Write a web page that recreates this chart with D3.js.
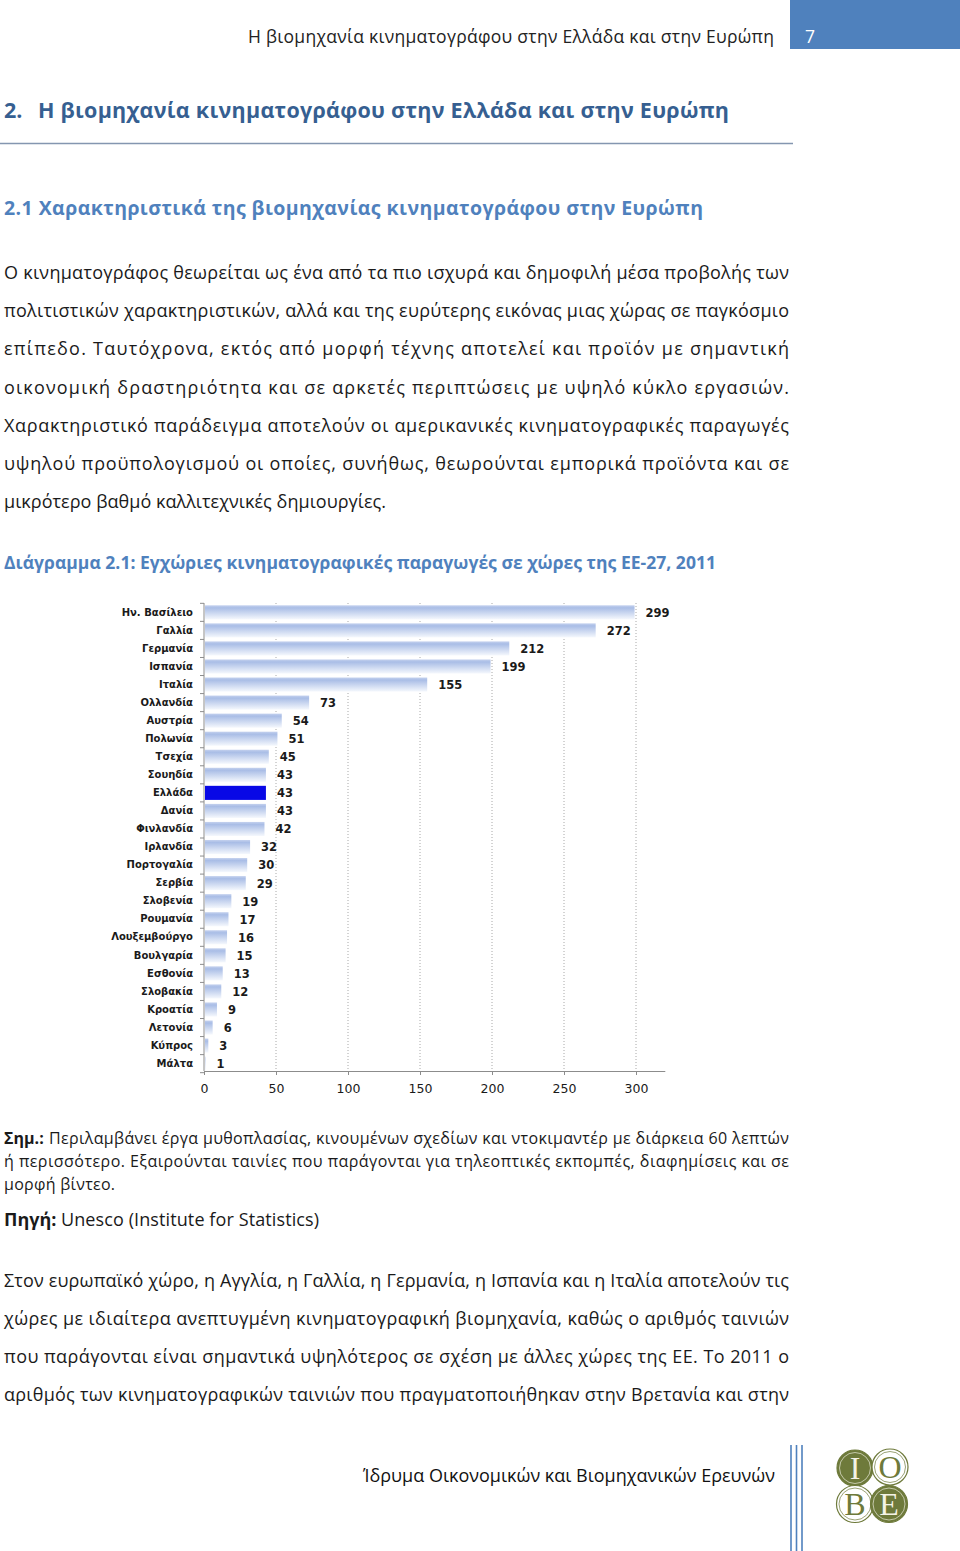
<!DOCTYPE html>
<html><head><meta charset="utf-8">
<script src="https://cdn.jsdelivr.net/npm/d3@7"></script>
<style>html,body{margin:0;padding:0;background:#fff;} svg{display:block}</style>
</head><body>
<script>
// ---------- data ----------
const countries = ["Ην. Βασίλειο","Γαλλία","Γερμανία","Ισπανία","Ιταλία","Ολλανδία","Αυστρία","Πολωνία","Τσεχία","Σουηδία","Ελλάδα","Δανία","Φινλανδία","Ιρλανδία","Πορτογαλία","Σερβία","Σλοβενία","Ρουμανία","Λουξεμβούργο","Βουλγαρία","Εσθονία","Σλοβακία","Κροατία","Λετονία","Κύπρος","Μάλτα"];
const films = [299,272,212,199,155,73,54,51,45,43,43,43,42,32,30,29,19,17,16,15,13,12,9,6,3,1];
const highlighted = "Ελλάδα";
const xTickValues = [0,50,100,150,200,250,300];

const headerText = "Η βιομηχανία κινηματογράφου στην Ελλάδα και στην Ευρώπη";
const pageNumber = "7";
const chapterNum = "2.";
const chapterTitle = "Η βιομηχανία κινηματογράφου στην Ελλάδα και στην Ευρώπη";
const sectionTitle = "2.1 Χαρακτηριστικά της βιομηχανίας κινηματογράφου στην Ευρώπη";
const para1 = [
 "Ο κινηματογράφος θεωρείται ως ένα από τα πιο ισχυρά και δημοφιλή μέσα προβολής των",
 "πολιτιστικών χαρακτηριστικών, αλλά και της ευρύτερης εικόνας μιας χώρας σε παγκόσμιο",
 "επίπεδο. Ταυτόχρονα, εκτός από μορφή τέχνης αποτελεί και προϊόν με σημαντική",
 "οικονομική δραστηριότητα και σε αρκετές περιπτώσεις με υψηλό κύκλο εργασιών.",
 "Χαρακτηριστικό παράδειγμα αποτελούν οι αμερικανικές κινηματογραφικές παραγωγές",
 "υψηλού προϋπολογισμού οι οποίες, συνήθως, θεωρούνται εμπορικά προϊόντα και σε",
 "μικρότερο βαθμό καλλιτεχνικές δημιουργίες."
];
const chartTitle = "Διάγραμμα 2.1: Εγχώριες κινηματογραφικές παραγωγές σε χώρες της ΕΕ-27, 2011";
const noteLabel = "Σημ.:";
const noteLines = [
 "Περιλαμβάνει έργα μυθοπλασίας, κινουμένων σχεδίων και ντοκιμαντέρ με διάρκεια 60 λεπτών",
 "ή περισσότερο. Εξαιρούνται ταινίες που παράγονται για τηλεοπτικές εκπομπές, διαφημίσεις και σε",
 "μορφή βίντεο."
];
const sourceLabel = "Πηγή:";
const sourceText = "Unesco (Institute for Statistics)";
const para2 = [
 "Στον ευρωπαϊκό χώρο, η Αγγλία, η Γαλλία, η Γερμανία, η Ισπανία και η Ιταλία αποτελούν τις",
 "χώρες με ιδιαίτερα ανεπτυγμένη κινηματογραφική βιομηχανία, καθώς ο αριθμός ταινιών",
 "που παράγονται είναι σημαντικά υψηλότερος σε σχέση με άλλες χώρες της ΕΕ. Το 2011 ο",
 "αριθμός των κινηματογραφικών ταινιών που πραγματοποιήθηκαν στην Βρετανία και στην"
];
const footerText = "Ίδρυμα Οικονομικών και Βιομηχανικών Ερευνών";

// ---------- page ----------
const W = 960, H = 1551;
const svg = d3.select("body").append("svg").attr("width", W).attr("height", H);
svg.append("rect").attr("width", W).attr("height", H).attr("fill", "#fff");

const bodyFont = "'Open Sans', 'Noto Sans', sans-serif";
function line(txt, x, y, opts) {
  const t = svg.append("text").attr("x", x).attr("y", y).text(txt)
    .attr("font-family", bodyFont)
    .attr("font-size", opts.size)
    .attr("font-weight", opts.weight || 400)
    .attr("fill", opts.color || "#1a1a1a");
  if (opts.len) t.attr("textLength", opts.len).attr("lengthAdjust", "spacing");
  return t;
}

// header
svg.append("rect").attr("x", 790).attr("y", 0).attr("width", 170).attr("height", 49).attr("fill", "#4f81bd");
line(headerText, 248, 43, {size: 17.5, len: 526, color: "#222"});
line(pageNumber, 805, 43, {size: 17.5, color: "#fff"});

// chapter title
line(chapterNum, 4, 118, {size: 21.5, weight: 700, color: "#365f91"});
line(chapterTitle, 38, 118, {size: 21.5, weight: 700, color: "#365f91", len: 691});
svg.append("line").attr("x1", 0).attr("x2", 793).attr("y1", 143.5).attr("y2", 143.5)
  .attr("stroke", "#8496b0").attr("stroke-width", 1.5);

// section title
line(sectionTitle, 4, 215, {size: 19.5, weight: 700, color: "#4f81bd", len: 699});

// paragraph 1
const p1Base = [279, 317, 355, 394, 432, 470, 508];
para1.forEach((s, i) => line(s, 4, p1Base[i], {size: 18, len: i === para1.length - 1 ? 382 : 785}));

// chart title
line(chartTitle, 4, 569, {size: 17.5, weight: 700, color: "#4f81bd", len: 712});

// ---------- chart ----------
const x = d3.scaleLinear().domain([0, 320]).range([204, 204 + 320 * 1.44]);
const y = d3.scaleBand().domain(countries).range([603.5, 1072.5]).paddingInner(0.22).paddingOuter(0.1);
const chartFont = "'DejaVu Sans', sans-serif";

const defs = svg.append("defs");
const grad = defs.append("linearGradient").attr("id", "barGrad").attr("x1", 0).attr("x2", 0).attr("y1", 0).attr("y2", 1);
grad.append("stop").attr("offset", "0%").attr("stop-color", "#c4d1ee");
grad.append("stop").attr("offset", "18%").attr("stop-color", "#a9bde6");
grad.append("stop").attr("offset", "100%").attr("stop-color", "#f5f8fd");

const chart = svg.append("g");
// gridlines
chart.selectAll("line.grid").data(xTickValues.filter(d => d > 0)).enter().append("line")
  .attr("class", "grid")
  .attr("x1", d => x(d)).attr("x2", d => x(d))
  .attr("y1", 603).attr("y2", 1071)
  .attr("stroke", "#a8a8a8").attr("stroke-width", 1).attr("stroke-dasharray", "1,2");

// bars
chart.selectAll("rect.bar").data(countries).enter().append("rect")
  .attr("class", "bar")
  .attr("x", x(0) + 1)
  .attr("y", d => y(d))
  .attr("width", (d, i) => Math.max(0, x(films[i]) - x(0) - 1))
  .attr("height", y.bandwidth())
  .attr("fill", d => d === highlighted ? "#0808e6" : "url(#barGrad)");

// values
chart.selectAll("text.val").data(countries).enter().append("text")
  .attr("class", "val")
  .attr("x", (d, i) => x(films[i]) + 11)
  .attr("y", d => y(d) + y.bandwidth() / 2)
  .attr("dy", "0.38em")
  .attr("font-family", chartFont).attr("font-weight", 700).attr("font-size", 11.5)
  .attr("fill", "#1a1a1a")
  .text((d, i) => films[i]);

// y axis labels
const yAxis = chart.append("g").attr("transform", "translate(204,0)")
  .call(d3.axisLeft(y).tickSize(0).tickPadding(11));
yAxis.select(".domain").remove();
yAxis.selectAll("text").attr("font-family", chartFont).attr("font-weight", 700)
  .attr("font-size", 10).attr("fill", "#1a1a1a");
// y axis line and boundary ticks
const step = y.step();
const bounds = countries.map(c => y(c) - step * y.paddingInner() / 2).concat([y(countries[countries.length - 1]) + y.bandwidth() + step * y.paddingInner() / 2]);
chart.append("line").attr("x1", 204).attr("x2", 204).attr("y1", 603).attr("y2", 1071)
  .attr("stroke", "#8c8c8c").attr("stroke-width", 1);
chart.selectAll("line.yt").data(bounds).enter().append("line").attr("class", "yt")
  .attr("x1", 200).attr("x2", 204).attr("y1", d => d).attr("y2", d => d)
  .attr("stroke", "#8c8c8c");

// x axis
const xAxis = chart.append("g").attr("transform", "translate(0,1071)")
  .call(d3.axisBottom(x).tickValues(xTickValues).tickSize(4).tickPadding(9).tickSizeOuter(0));
xAxis.select(".domain").attr("stroke", "#8c8c8c");
xAxis.selectAll(".tick line").attr("stroke", "#8c8c8c");
xAxis.selectAll("text").attr("font-family", chartFont).attr("font-size", 12.5).attr("fill", "#1a1a1a");

// ---------- notes ----------
line(noteLabel, 4, 1144, {size: 16, weight: 700});
line(noteLines[0], 49, 1144, {size: 16, len: 740});
line(noteLines[1], 4, 1167, {size: 16, len: 785});
line(noteLines[2], 4, 1190, {size: 16, len: 111});
line(sourceLabel, 4, 1226, {size: 18, weight: 700});
line(sourceText, 61, 1226, {size: 18, len: 258});

// paragraph 2
const p2Base = [1287, 1325, 1363, 1401];
para2.forEach((s, i) => line(s, 4, p2Base[i], {size: 18, len: 785}));

// ---------- footer ----------
line(footerText, 363, 1482, {size: 18, len: 412, color: "#111"});
[791, 796.5, 802].forEach(xx => svg.append("line").attr("x1", xx).attr("x2", xx).attr("y1", 1445).attr("y2", 1551)
  .attr("stroke", "#4f81bd").attr("stroke-width", 1.6));

const olive = "#6e7a3b";
const logo = [
  {cx: 855, cy: 1468, r: 18, filled: true, ch: "I"},
  {cx: 890, cy: 1467, r: 18, filled: false, ch: "O"},
  {cx: 855, cy: 1504, r: 18.5, filled: false, ch: "B"},
  {cx: 889, cy: 1504, r: 18.5, filled: true, ch: "E"}
];
const lg = svg.append("g");
lg.selectAll("circle.o").data(logo).enter().append("circle")
  .attr("cx", d => d.cx).attr("cy", d => d.cy).attr("r", d => d.r)
  .attr("fill", d => d.filled ? olive : "#fff").attr("stroke", olive).attr("stroke-width", 1.2);
lg.selectAll("circle.i").data(logo).enter().append("circle")
  .attr("cx", d => d.cx).attr("cy", d => d.cy).attr("r", d => d.r - 2.5)
  .attr("fill", "none").attr("stroke", d => d.filled ? "#e8ead8" : olive).attr("stroke-width", 0.7);
lg.selectAll("text").data(logo).enter().append("text")
  .attr("x", d => d.cx).attr("y", d => d.cy + 11)
  .attr("text-anchor", "middle")
  .attr("font-family", "'Liberation Serif', 'DejaVu Serif', serif").attr("font-size", 32)
  .attr("fill", d => d.filled ? "#f4f3e6" : olive)
  .text(d => d.ch);
</script>
</body></html>
